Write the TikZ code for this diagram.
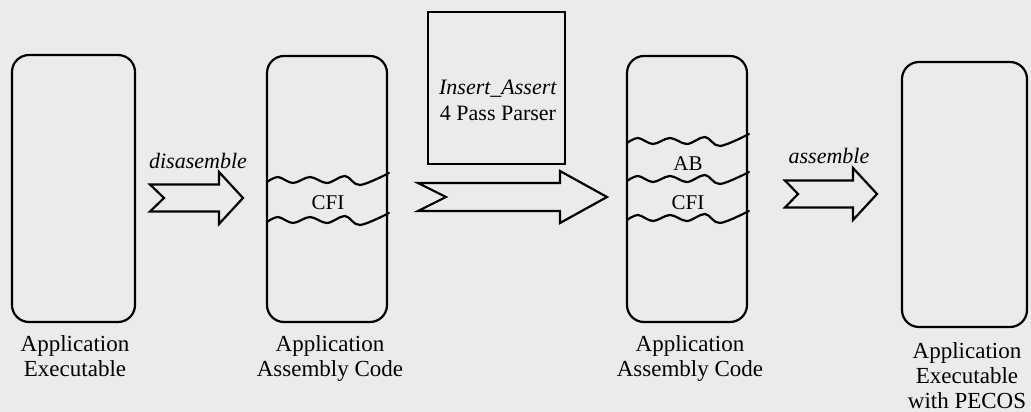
\documentclass[tikz,border=0pt]{standalone}
\usepackage{fontspec}
\setmainfont{Liberation Serif}
\usetikzlibrary{calc}
\begin{document}
\begin{tikzpicture}[x=1pt,y=-1pt,
  codebox/.style={draw, line width=2.2pt, rounded corners=17pt, inner sep=0pt},
  parserbox/.style={draw, line width=2.3pt, inner sep=0pt, minimum width=137pt, minimum height=152pt},
  caption/.style={align=center, anchor=north, inner sep=0pt,
    font=\fontsize{23}{25}\selectfont},
  steplabel/.style={anchor=base, inner sep=0pt, font=\fontsize{22}{24}\selectfont\itshape},
  partlabel/.style={inner sep=0pt, font=\fontsize{21}{24}\selectfont},
  fatarrow/.style={draw, line width=2.2pt, miter limit=10, line join=miter},
  wave/.style={draw, line width=2.2pt, line cap=round}
]
% paper background and page frame
\fill[black!8] (0,0) rectangle (1031,412);
\useasboundingbox (0,0) rectangle (1031,412);

% program images
\node[codebox, minimum width=123pt, minimum height=267pt] (exe) at (73.5,188.5) {};
\node[codebox, minimum width=120pt, minimum height=266pt] (asm) at (327,189) {};
\node[codebox, minimum width=120pt, minimum height=266pt] (asmab) at (687,189) {};
\node[codebox, minimum width=125pt, minimum height=265pt] (pecos) at (964.5,194.5) {};

% parser
\node[parserbox] (parser) at (496.5,88) {};
\node[align=center, inner sep=0pt, font=\fontsize{22}{26}\selectfont] (ptext) at (498,100)
  {\textit{Insert\_Assert}\\4 Pass Parser};

% torn-edge section borders
\newcommand{\tornedge}[2]{%
  \draw[wave, shift={(#1,#2)}] plot[smooth, tension=0.55] coordinates
    {(0,0) (11,-5) (26,1) (43,-5) (60,1) (78,-6) (93,3) (122,-9)};}
\tornedge{267}{182}
\tornedge{267}{222}
\tornedge{627}{143}
\tornedge{627}{181}
\tornedge{627}{220}

\node[partlabel] (cfi1) at (328,203) {CFI};
\node[partlabel] (ab) at (688,164) {AB};
\node[partlabel] (cfi2) at (688,203) {CFI};

% block arrows: tail, notch, head base, tip; centre line, body height
\newcommand{\blockarrow}[7]{%
  \draw[fatarrow] (#1,#6-#7/2) -- (#3,#6-#7/2) -- (#3,#6-26) -- (#4,#6)
    -- (#3,#6+26) -- (#3,#6+#7/2) -- (#1,#6+#7/2) -- (#2,#6) -- cycle;}
\blockarrow{150}{164}{219}{243}{0}{198}{27}
\blockarrow{418}{446}{560}{607}{0}{197}{28}
\blockarrow{785}{798}{853}{877}{0}{194}{27}

\node[steplabel] (dis) at (198,168) {disasemble};
\node[steplabel] (ass) at (829,163) {assemble};

% captions
\node[caption] (c1) at (75,335) {Application\\Executable};
\node[caption] (c2) at (330,335) {Application\\Assembly Code};
\node[caption] (c3) at (690,335) {Application\\Assembly Code};
\node[caption] (c4) at (967,342) {Application\\Executable\\with PECOS};
\end{tikzpicture}
\end{document}
